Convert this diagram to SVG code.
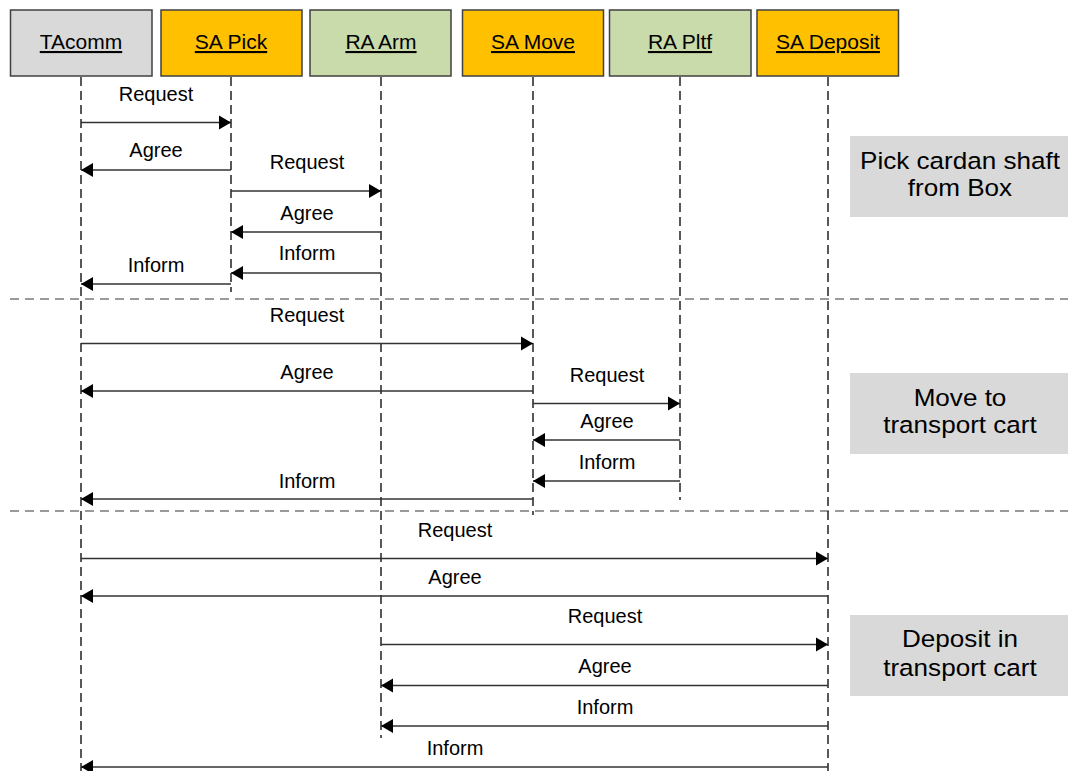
<svg xmlns="http://www.w3.org/2000/svg" width="1068" height="771" viewBox="0 0 1068 771">
  <style>
    .hdr { stroke: #404040; stroke-width: 1.5; }
    .ta { fill: #D9D9D9; }
    .sa { fill: #FFC000; }
    .ra { fill: #C9DAAB; }
    .hdr-t { font-family: "Liberation Sans", Arial, sans-serif; font-size: 21px; fill: #000; text-anchor: middle; text-decoration: underline; }
    .life { stroke: #222; stroke-width: 1.5; stroke-dasharray: 9 5; fill: none; }
    .sep { stroke: #9A9A9A; stroke-width: 1.8; stroke-dasharray: 9 6; fill: none; }
    .msg { stroke: #333; stroke-width: 1.6; fill: none; marker-end: url(#head); }
    .lbl { font-family: "Liberation Sans", Arial, sans-serif; font-size: 20px; fill: #000; text-anchor: middle; }
    .phase { fill: #D9D9D9; }
    .phase-t { font-family: "Liberation Sans", Arial, sans-serif; font-size: 23.5px; fill: #000; text-anchor: middle; }
  </style>
  <defs>
    <marker id="head" markerUnits="userSpaceOnUse" markerWidth="14" markerHeight="16" refX="12" refY="7" orient="auto" overflow="visible">
      <path d="M0,0 L12,7 L0,14 z" fill="#000"/>
    </marker>
  </defs>

  <rect width="1068" height="771" fill="#fff"/>

  <!-- phase separators -->
  <g id="separators">
    <line class="sep" x1="10" y1="299" x2="1068" y2="299"/>
    <line class="sep" x1="10" y1="511" x2="1068" y2="511"/>
  </g>

  <!-- lifelines -->
  <g id="lifelines">
    <line class="life" x1="81" y1="77" x2="81" y2="771"/>
    <line class="life" x1="231" y1="77" x2="231" y2="292"/>
    <line class="life" x1="381" y1="77" x2="381" y2="738"/>
    <line class="life" x1="533" y1="77" x2="533" y2="515"/>
    <line class="life" x1="680" y1="77" x2="680" y2="500"/>
    <line class="life" x1="828" y1="77" x2="828" y2="771"/>
  </g>

  <!-- participants -->
  <g id="tacomm">
    <rect class="hdr ta" x="10.5" y="10" width="141.5" height="66"/>
    <text class="hdr-t" x="81" y="49">TAcomm</text>
  </g>
  <g id="sa-pick">
    <rect class="hdr sa" x="161" y="10" width="141" height="66"/>
    <text class="hdr-t" x="231" y="49">SA Pick</text>
  </g>
  <g id="ra-arm">
    <rect class="hdr ra" x="310" y="10" width="141" height="66"/>
    <text class="hdr-t" x="381" y="49">RA Arm</text>
  </g>
  <g id="sa-move">
    <rect class="hdr sa" x="462.5" y="10" width="141" height="66"/>
    <text class="hdr-t" x="533" y="49">SA Move</text>
  </g>
  <g id="ra-pltf">
    <rect class="hdr ra" x="609.5" y="10" width="141.5" height="66"/>
    <text class="hdr-t" x="680" y="49">RA Pltf</text>
  </g>
  <g id="sa-deposit">
    <rect class="hdr sa" x="757" y="10" width="141.5" height="66"/>
    <text class="hdr-t" x="828" y="49">SA Deposit</text>
  </g>

  <!-- phase labels -->
  <g id="phase-pick">
    <rect class="phase" x="850" y="136" width="218" height="81"/>
    <g transform="translate(960,0) scale(1.11,1)">
      <text class="phase-t" x="0" y="169">Pick cardan shaft</text>
      <text class="phase-t" x="0" y="196">from Box</text>
    </g>
  </g>
  <g id="phase-move">
    <rect class="phase" x="850" y="373" width="218" height="81"/>
    <g transform="translate(960,0) scale(1.11,1)">
      <text class="phase-t" x="0" y="406">Move to</text>
      <text class="phase-t" x="0" y="433">transport cart</text>
    </g>
  </g>
  <g id="phase-deposit">
    <rect class="phase" x="850" y="615" width="218" height="81"/>
    <g transform="translate(960,0) scale(1.11,1)">
      <text class="phase-t" x="0" y="647">Deposit in</text>
      <text class="phase-t" x="0" y="676">transport cart</text>
    </g>
  </g>

  <!-- messages -->
  <g id="connectors">
    <line class="msg" x1="81" y1="122.5" x2="231" y2="122.5"/>
    <line class="msg" x1="231" y1="170" x2="81" y2="170"/>
    <line class="msg" x1="231" y1="191" x2="381" y2="191"/>
    <line class="msg" x1="381" y1="232" x2="231" y2="232"/>
    <line class="msg" x1="381" y1="273" x2="231" y2="273"/>
    <line class="msg" x1="231" y1="284" x2="81" y2="284"/>

    <line class="msg" x1="81" y1="343.5" x2="533" y2="343.5"/>
    <line class="msg" x1="533" y1="391" x2="81" y2="391"/>
    <line class="msg" x1="533" y1="403.5" x2="680" y2="403.5"/>
    <line class="msg" x1="680" y1="440" x2="533" y2="440"/>
    <line class="msg" x1="680" y1="481" x2="533" y2="481"/>
    <line class="msg" x1="533" y1="499" x2="81" y2="499"/>

    <line class="msg" x1="81" y1="558.5" x2="828" y2="558.5"/>
    <line class="msg" x1="828" y1="596" x2="81" y2="596"/>
    <line class="msg" x1="381" y1="644.5" x2="828" y2="644.5"/>
    <line class="msg" x1="828" y1="685.5" x2="381" y2="685.5"/>
    <line class="msg" x1="828" y1="726" x2="381" y2="726"/>
    <line class="msg" x1="828" y1="767" x2="81" y2="767"/>
  </g>

  <!-- message labels -->
  <g id="labels">
    <text class="lbl" x="156" y="101">Request</text>
    <text class="lbl" x="156" y="157">Agree</text>
    <text class="lbl" x="307" y="169">Request</text>
    <text class="lbl" x="307" y="220">Agree</text>
    <text class="lbl" x="307" y="260">Inform</text>
    <text class="lbl" x="156" y="272">Inform</text>

    <text class="lbl" x="307" y="322">Request</text>
    <text class="lbl" x="307" y="379">Agree</text>
    <text class="lbl" x="607" y="382">Request</text>
    <text class="lbl" x="607" y="428">Agree</text>
    <text class="lbl" x="607" y="469">Inform</text>
    <text class="lbl" x="307" y="488">Inform</text>

    <text class="lbl" x="455" y="537">Request</text>
    <text class="lbl" x="455" y="584">Agree</text>
    <text class="lbl" x="605" y="623">Request</text>
    <text class="lbl" x="605" y="673">Agree</text>
    <text class="lbl" x="605" y="714">Inform</text>
    <text class="lbl" x="455" y="755">Inform</text>
  </g>
</svg>
